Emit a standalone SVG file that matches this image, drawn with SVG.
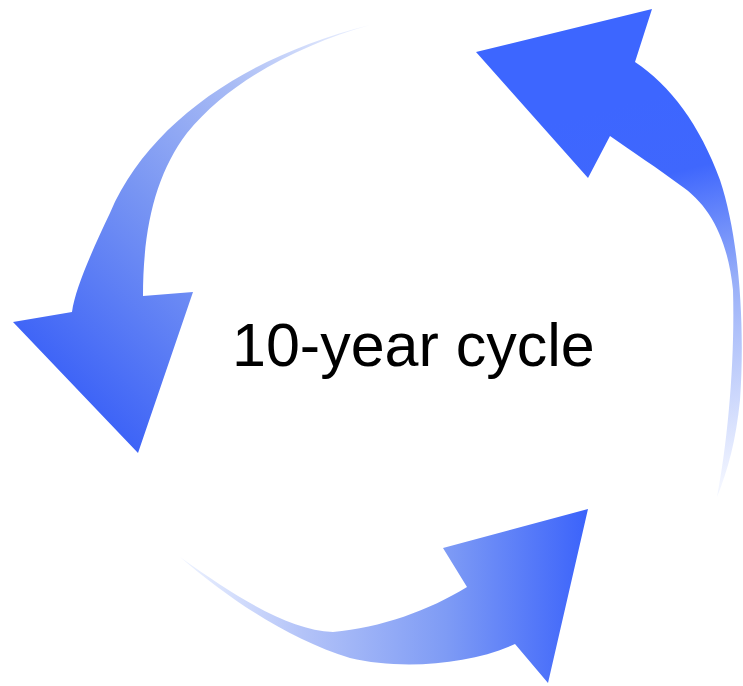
<svg xmlns="http://www.w3.org/2000/svg" width="743" height="686" viewBox="0 0 743 686">
  <style>
    .lbl { font-family: "Liberation Sans", Arial, sans-serif; font-size: 61px; fill: #000; }
  </style>
  <defs>
    <linearGradient id="gLeft" gradientUnits="userSpaceOnUse" x1="370" y1="25" x2="40" y2="360">
      <stop offset="0" stop-color="#f0f4ff"/>
      <stop offset="0.3" stop-color="#a8bbf5"/>
      <stop offset="0.6" stop-color="#7895f3"/>
      <stop offset="1" stop-color="#3d63f7"/>
    </linearGradient>
    <linearGradient id="gRight" gradientUnits="userSpaceOnUse" x1="640" y1="100" x2="735" y2="480">
      <stop offset="0" stop-color="#3d66ff"/>
      <stop offset="0.2" stop-color="#3f67fd"/>
      <stop offset="0.5" stop-color="#97aef8"/>
      <stop offset="1" stop-color="#f2f5ff"/>
    </linearGradient>
    <linearGradient id="gBottom" gradientUnits="userSpaceOnUse" x1="180" y1="0" x2="590" y2="0">
      <stop offset="0" stop-color="#eef3ff"/>
      <stop offset="0.3" stop-color="#b3c3f8"/>
      <stop offset="0.65" stop-color="#7e9bf5"/>
      <stop offset="1" stop-color="#3a62fb"/>
    </linearGradient>
  </defs>
  <rect width="743" height="686" fill="#ffffff"/>
  <g id="connectors">
    <g id="arrow-left">
      <path fill="url(#gLeft)" d="M 370,25 C 250,55 150,120 110,213 C 90,255 75,290 72,312 L 13,322 L 138,453 L 193,292 L 143,296 C 143,230 155,175 187,133 C 230,80 300,45 370,25 Z"/>
    </g>
    <g id="arrow-right">
      <path fill="url(#gRight)" d="M 476,52 L 652,9 L 635,62 C 670,85 700,125 720,180 C 740,240 745,330 740,400 C 736,440 728,470 717,497 C 728,440 735,360 733,290 C 728,240 710,205 680,185 C 660,170 630,150 610,136 L 588,178 Z"/>
    </g>
    <g id="arrow-bottom">
      <path fill="url(#gBottom)" d="M 180,557 C 230,600 290,640 350,658 C 400,670 470,665 515,644 L 548,683 L 588,509 L 443,548 L 467,587 C 430,610 380,628 333,632 C 290,630 240,600 180,557 Z"/>
    </g>
  </g>
  <g id="node-label">
    <text class="lbl" x="232" y="366">10-year cycle</text>
  </g>
</svg>
